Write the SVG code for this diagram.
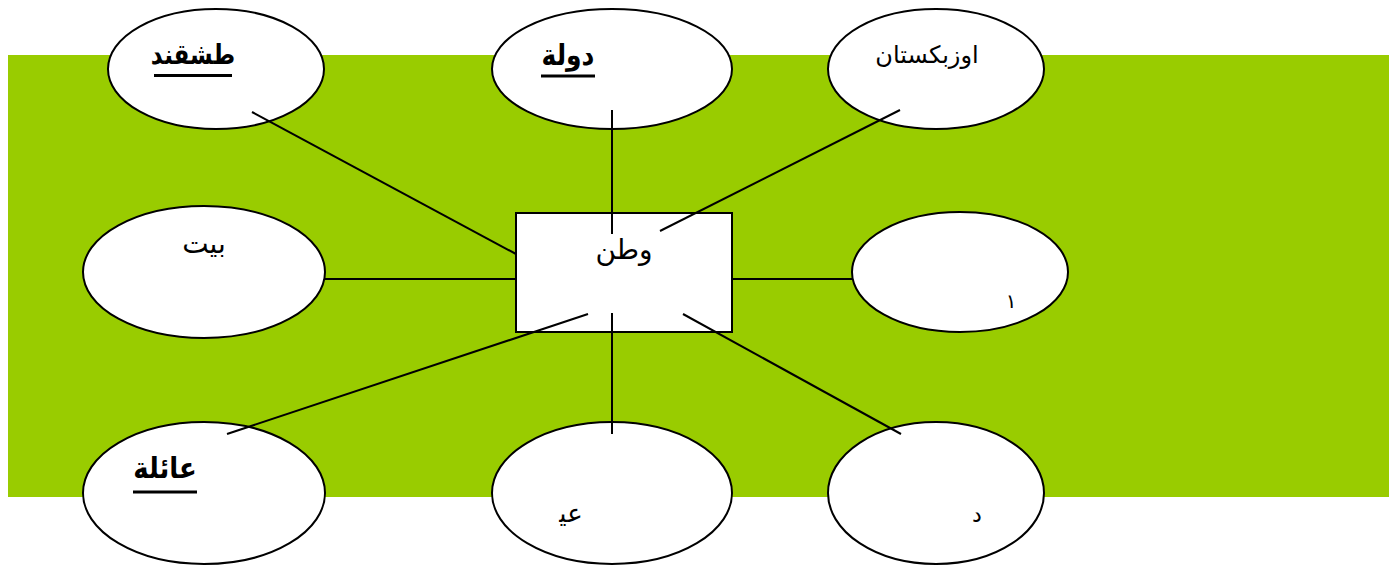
<svg xmlns="http://www.w3.org/2000/svg" width="1389" height="566" viewBox="0 0 1389 566">
<style>
.ell{fill:#fff;stroke:#000;stroke-width:2}
.con{stroke:#000;stroke-width:2;fill:none}
.t{font-family:"Liberation Sans","DejaVu Sans",sans-serif;fill:#000;text-anchor:middle}
.b{font-weight:bold;font-size:23px}
.r{font-size:20px}
.ul{stroke:#000;stroke-width:3}
</style>
<rect x="8" y="55" width="1381" height="442" fill="#99CC00"/>
<g id="n-tashkent"><ellipse class="ell" cx="216" cy="69" rx="108" ry="60"/><text class="t b" x="193" y="64" font-size="22" transform="translate(193 64) scale(1 1.2) translate(-193 -64)">طشقند</text><line class="ul" x1="154" y1="75.5" x2="232" y2="75.5"/></g>
<g id="n-dawla"><ellipse class="ell" cx="612" cy="69" rx="120" ry="60"/><text class="t b" x="568" y="65" style="font-size:25px" transform="translate(568 65) scale(1 1.15) translate(-568 -65)">دولة</text><line class="ul" x1="541" y1="76" x2="595" y2="76"/></g>
<g id="n-uzbekistan"><ellipse class="ell" cx="936" cy="69" rx="108" ry="60"/><text class="t" style="font-size:24px" x="927" y="63">اوزبكستان</text></g>
<g id="n-bayt"><ellipse class="ell" cx="204" cy="272" rx="121" ry="66"/><text class="t" style="font-size:28px" x="204" y="253">بيت</text></g>
<g id="n-one"><ellipse class="ell" cx="960" cy="272" rx="108" ry="60"/><text class="t r" x="1011" y="308">١</text></g>
<g id="n-family"><ellipse class="ell" cx="204" cy="493" rx="121" ry="71"/><text class="t b" x="165" y="478" style="font-size:26px" transform="translate(165 478) scale(1 1.1) translate(-165 -478)">عائلة</text><line class="ul" x1="133" y1="492" x2="197" y2="492"/></g>
<g id="n-eid"><ellipse class="ell" cx="612" cy="493" rx="120" ry="71"/><text class="t" style="font-size:26px" x="571" y="522">عي&#x200D;</text></g>
<g id="n-dal"><ellipse class="ell" cx="936" cy="493" rx="108" ry="71"/><text class="t" style="font-size:22px" x="977" y="522">د</text></g>
<g id="n-watan"><rect x="516" y="213" width="216" height="119" fill="#fff" stroke="#000" stroke-width="2"/><text class="t" style="font-size:28px" x="624" y="259">وطن</text></g>
<g id="connectors">
<line class="con" x1="252" y1="112" x2="516" y2="254"/>
<line class="con" x1="612" y1="110" x2="612" y2="234"/>
<line class="con" x1="900" y1="110" x2="660" y2="231"/>
<line class="con" x1="325" y1="279" x2="516" y2="279"/>
<line class="con" x1="732" y1="279" x2="852" y2="279"/>
<line class="con" x1="227" y1="434" x2="588" y2="314"/>
<line class="con" x1="612" y1="313" x2="612" y2="434"/>
<line class="con" x1="683" y1="314" x2="901" y2="434"/>
</g>
</svg>
